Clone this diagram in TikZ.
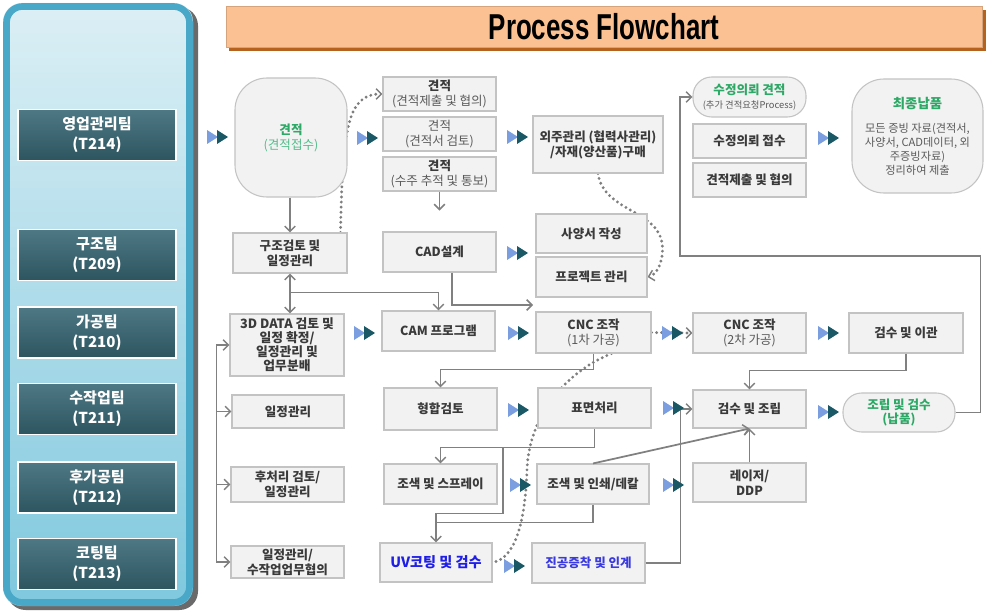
\documentclass[tikz,border=0pt]{standalone}
\usepackage{fontspec}
\usepackage{graphicx}
\setmainfont{Noto Sans CJK KR}
\newfontfamily\titlefont{Liberation Sans}
\usetikzlibrary{arrows.meta,calc}
\definecolor{boxfill}{HTML}{F2F2F2}
\definecolor{boxline}{HTML}{C3C3C3}
\definecolor{boxtext}{HTML}{3A3A3A}
\definecolor{subtext}{HTML}{5A5A5A}
\definecolor{lngray}{HTML}{808080}
\definecolor{dotgray}{HTML}{7E7E7E}
\definecolor{grn}{HTML}{2EA866}
\definecolor{lgrn}{HTML}{52BC8A}
\definecolor{uvblue}{HTML}{1E1EE6}
\definecolor{vacblue}{HTML}{3A3AE0}
\definecolor{tri1}{HTML}{7A9EE0}
\definecolor{tri2}{HTML}{1A5866}
\definecolor{pTop}{HTML}{DCEFF5}
\definecolor{pBot}{HTML}{7FC8DE}
\definecolor{pBorder}{HTML}{49A7C8}
\definecolor{pShadow}{HTML}{6A6A6A}
\definecolor{tTop}{HTML}{4E7884}
\definecolor{tBot}{HTML}{2C5560}
\definecolor{titlefill}{HTML}{FBC192}
\definecolor{titleshadow}{HTML}{B5621E}
\pgfdeclarelayer{back}\pgfdeclarelayer{bg}\pgfsetlayers{back,bg,main}
\begin{document}
\begin{tikzpicture}[x=0.75pt,y=-0.75pt,
  wh/.style 2 args={minimum width={#1*0.75pt},minimum height={#2*0.75pt}},
  bx/.style={draw=boxline,fill=boxfill,line width=0.8pt,inner sep=1pt,align=center,
    font=\fontsize{9.4}{11.2}\selectfont\bfseries,text=boxtext},
  rnd/.style={bx,rounded corners=24pt},
  pill/.style={bx,rounded corners=14pt},
  team/.style={draw=white,line width=1.3pt,top color=tTop,bottom color=tBot,text=white,
    font=\fontsize{11.3}{15}\selectfont\bfseries,align=center,wh={158}{51}},
  ln/.style={draw=lngray,line width=1.3pt},
  ar/.style={ln,-{Straight Barb[length=4pt,width=8pt,line width=1.1pt]}},
  arb/.style={ln,{Straight Barb[length=4pt,width=8pt,line width=1.1pt]}-{Straight Barb[length=4pt,width=8pt,line width=1.1pt]}},
  dotln/.style={draw=dotgray,line width=2.4pt,line cap=round,dash pattern=on 0pt off 3.8pt},
  dotar/.style={dotln,-{Straight Barb[length=4pt,width=8pt,line width=1.1pt]}},
  dtri/.pic={\fill[tri1] (0,-7)--(11,0)--(0,7)--cycle; \fill[tri2] (10,-7)--(21,0)--(10,7)--cycle;}
]
\begin{pgfonlayer}{back}
\fill[white] (0,0) rectangle (992,613);
\end{pgfonlayer}
\useasboundingbox (0,0) rectangle (992,613);

% left panel
\fill[pShadow,rounded corners=14pt] (7,7) rectangle (198,610);
\shade[top color=pTop,bottom color=pBot,rounded corners=14pt] (3,3) rectangle (193,606);
\draw[pBorder,line width=5pt,rounded corners=12pt] (6.5,6.5) rectangle (189.5,602.5);

\node[team] (t214) at (97,135) {영업관리팀\\(T214)};
\node[team] (t209) at (97,255) {구조팀\\(T209)};
\node[team] (t210) at (97,332.5) {가공팀\\(T210)};
\node[team] (t211) at (97,409) {수작업팀\\(T211)};
\node[team] (t212) at (97,487.5) {후가공팀\\(T212)};
\node[team] (t213) at (97,564) {코팅팀\\(T213)};

% title
\fill[titleshadow] (229,10) rectangle (986,51);
\node[fill=titlefill,draw=titlefill!85!black,line width=0.4pt,wh={756}{41},inner sep=0pt] (title) at (604,27)
  {\titlefont\bfseries\fontsize{27}{30}\selectfont\scalebox{0.72}[1]{Process Flowchart}};

% boxes
\node[rnd,wh={112}{119}] (jeon) at (291,137.5) {{\color{grn}견적}\\{\color{lgrn}\mdseries(견적접수)}};
\node[bx,wh={113}{34}] (q1) at (439.5,94) {견적\\{\mdseries\color{subtext}(견적제출 및 협의)}};
\node[bx,wh={113}{34}] (q2) at (439.5,134) {{\mdseries\color{subtext}견적}\\{\mdseries\color{subtext}(견적서 검토)}};
\node[bx,wh={113}{34}] (q3) at (439.5,174) {견적\\{\mdseries\color{subtext}(수주 추적 및 통보)}};
\node[bx,wh={114}{40}] (gujo) at (290,253) {구조검토 및\\일정관리};
\node[bx,wh={113}{40}] (cad) at (439.5,252) {CAD설계};
\node[bx,wh={130}{57}] (oeju) at (598,144.5) {외주관리 (협력사관리)\\/자재(양산품)구매};
\node[bx,wh={111}{39}] (spec) at (591.5,233.5) {사양서 작성};
\node[bx,wh={111}{40}] (pm) at (591.5,277) {프로젝트 관리};
\node[pill,wh={113}{40},inner sep=0pt] (rev) at (749.5,97) {{\color{grn}수정의뢰 견적}\\[-1pt]{\mdseries\color{subtext}\fontsize{7}{8}\selectfont(추가 견적요청Process)}};
\node[bx,wh={113}{34}] (rev1) at (749.5,141) {수정의뢰 접수};
\node[bx,wh={113}{34}] (rev2) at (749.5,180) {견적제출 및 협의};
\node[rnd,wh={131}{114},font=\fontsize{8.4}{10.4}\selectfont\mdseries,text=subtext] (final) at (917.5,136)
  {{\color{grn}\bfseries\fontsize{10}{11}\selectfont 최종납품}\\[8pt]모든 증빙 자료(견적서,\\사양서, CAD데이터, 외\\주증빙자료)\\정리하여 제출};
\node[bx,wh={114}{62},font=\fontsize{9.6}{10.6}\selectfont\bfseries] (d3) at (287,345) {3D DATA 검토 및\\일정 확정/\\일정관리 및\\업무분배};
\node[bx,wh={113}{40}] (cam) at (438.5,331) {CAM 프로그램};
\node[bx,wh={115}{41}] (cnc1) at (593.5,332.5) {CNC 조작\\{\mdseries\color{subtext}(1차 가공)}};
\node[bx,wh={113}{40}] (cnc2) at (749.5,333) {CNC 조작\\{\mdseries\color{subtext}(2차 가공)}};
\node[bx,wh={114}{40}] (insp) at (906,333) {검수 및 이관};
\node[bx,wh={112}{33}] (sch) at (288,411.5) {일정관리};
\node[bx,wh={113}{42}] (hyung) at (440.5,409) {형합검토};
\node[bx,wh={113}{40}] (surf) at (594.5,408) {표면처리};
\node[bx,wh={113}{38}] (asm) at (749.5,409) {검수 및 조립};
\node[pill,wh={112}{39},text=grn] (deliv) at (899,412.5) {조립 및 검수\\(납품)};
\node[bx,wh={113}{35}] (post) at (287.5,484.5) {후처리 검토/\\일정관리};
\node[bx,wh={113}{40}] (spray) at (440.5,484) {조색 및 스프레이};
\node[bx,wh={112}{40}] (print) at (593,484) {조색 및 인쇄/데칼};
\node[bx,wh={113}{39}] (laser) at (749.5,482.5) {레이저/\\DDP};
\node[bx,wh={113}{32}] (sch2) at (287.5,562) {일정관리/\\수작업업무협의};
\node[bx,wh={112}{39},text=uvblue,font=\fontsize{10.6}{12}\selectfont\bfseries] (uv) at (436,562.5) {UV코팅 및 검수};
\node[bx,wh={113}{40},text=vacblue] (vac) at (588.5,563) {진공증착 및 인계};

% dotted connectors (behind boxes)
\begin{pgfonlayer}{bg}
\draw[dotar] ($(gujo.north east)+(-7,0)$) .. controls +(2,-105) and +(-35,0) .. (q1.west);
\draw[dotar] (oeju.south) .. controls +(6,40) and +(0,-40) .. ($(pm.east)+(15,-28)$) .. controls +(0,16) and +(8,-2) .. (pm.east);
\draw[dotar] (cnc1.east) -- (cnc2.west);
\draw[dotln] ($(cnc1.south)+(18,0)$) .. controls +(-45,18) and +(2,-55) .. (527,470) .. controls +(-2,55) and +(22,-4) .. (uv.east);
\end{pgfonlayer}

% solid connectors
\draw[ar] (gujo.north |- jeon.south) -- (gujo.north);
\coordinate (qend) at ($(q3.south)+(0,19)$);
\draw[ar] (q3.south) -- (qend);
\draw[arb] (gujo.south) -- (gujo.south |- d3.north);
\path (gujo.south) ++(0,19) coordinate (j1);
\draw[ar] (j1) -| (cam.north);
\coordinate (cadend) at (533,305);
\draw[ar] ($(cad.south)+(12.5,0)$) |- (cadend);
\draw[ar] (deliv.east) -- ++(25,0) |- (680,256) |- (rev.west);
\draw[ar] (cnc1.south) -- ++(0,16) -| (hyung.north);
\draw[ar] (insp.south) -- ++(0,17) -| (asm.north);
\path (surf.south) ++(0,19) coordinate (j2);
\draw[ar] (surf.south) -- (j2) -| (spray.north);
\coordinate (j3) at ($(j2)+(-91.5,0)$);
\coordinate (uvj) at ($(uv.north)+(0,-20)$);
\draw[ar] (j3) -- ++(0,66) -| (uv.north);
\draw[ln] (print.south) |- (uvj);
\draw[ar] (print.north) -- (asm.south);
\draw[ar] (laser.north) -- (asm.south);
\draw[ar] (vac.east) -- ++(35,0) |- (asm.west);
\path (d3.west) ++(-13,0) coordinate (tr1);
\draw[ln] (tr1) -- (tr1 |- sch2.west);
\draw[ar] (tr1) -- (d3.west);
\draw[ar] (tr1 |- sch.west) -- (sch.west);
\draw[ar] (tr1 |- post.west) -- (post.west);
\draw[ar] (tr1 |- sch2.west) -- (sch2.west);

% double triangles
\foreach \px/\py in {207/137,357/138,507/137,507/253,354/333,508/333,662/333,818/138,818/333,508/410,663/408,818/412,510/485,663/485,504/566}
  \pic at (\px,\py) {dtri};
\end{tikzpicture}
\end{document}
